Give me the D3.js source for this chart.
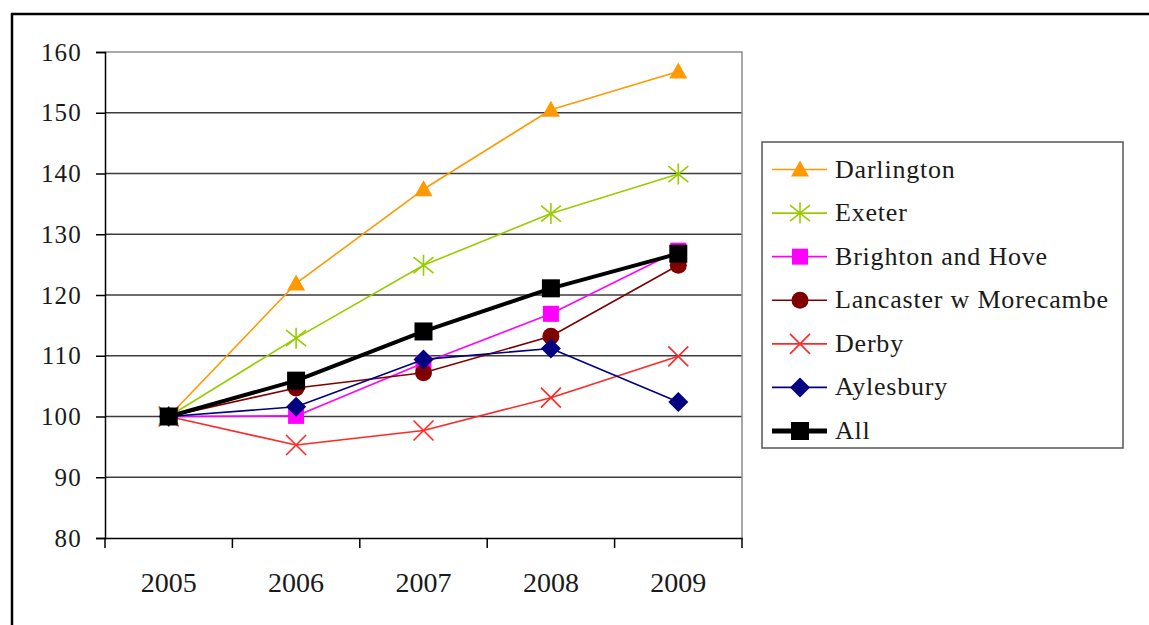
<!DOCTYPE html>
<html>
<head>
<meta charset="utf-8">
<script src="https://cdn.jsdelivr.net/npm/d3@7"></script>
<style>
  html, body { margin: 0; padding: 0; background: #fff; }
  svg { display: block; }
  text { font-family: "Liberation Serif", "Times New Roman", serif; fill: #1a1a1a; }
</style>
</head>
<body>
<svg id="chart" width="1149" height="625"></svg>
<script>
// Index values (2005 = 100)
const years = ["2005", "2006", "2007", "2008", "2009"];
const yTicks = [80, 90, 100, 110, 120, 130, 140, 150, 160];

const darlington = [100, 121.9, 137.4, 150.5, 156.8];
const exeter     = [100, 112.9, 124.9, 133.4, 139.9];
const brighton   = [100, 100.1, 108.8, 116.9, 127.3];
const lancaster  = [100, 104.7, 107.2, 113.2, 124.9];
const derby      = [100, 95.3, 97.7, 103.1, 109.9];
const aylesbury  = [100, 101.6, 109.4, 111.2, 102.4];
const all        = [100, 105.9, 114.0, 121.1, 126.8];

const seriesNames = ["Darlington", "Exeter", "Brighton and Hove", "Lancaster w Morecambe", "Derby", "Aylesbury", "All"];
const seriesValues = [darlington, exeter, brighton, lancaster, derby, aylesbury, all];
const seriesColors = ["#FF9900", "#99CC00", "#FF00FF", "#800000", "#FF2828", "#000080", "#000000"];
const seriesMarkers = ["triangle", "star", "square", "circle", "cross", "diamond", "bigsquare"];
const seriesWidths = [1.6, 1.6, 1.6, 1.6, 1.6, 1.6, 4];

const serif = "'Liberation Serif', 'Times New Roman', serif";
const svg = d3.select("#chart");

// outer frame (top and left edges)
svg.append("line").attr("x1", 11).attr("x2", 1149).attr("y1", 14).attr("y2", 14)
  .attr("stroke", "#000").attr("stroke-width", 2.5);
svg.append("line").attr("x1", 12).attr("x2", 12).attr("y1", 13).attr("y2", 625)
  .attr("stroke", "#000").attr("stroke-width", 2.5);

const plot = { left: 105, right: 742, top: 52, bottom: 538 };

const x = d3.scaleBand().domain(years).range([plot.left, plot.right]);
const y = d3.scaleLinear().domain([80, 160]).range([plot.bottom, plot.top]);
const cx = d => x(d) + x.bandwidth() / 2;

// gridlines
svg.append("g").selectAll("line")
  .data(yTicks.filter(t => t > 80 && t < 160))
  .join("line")
  .attr("x1", plot.left).attr("x2", plot.right)
  .attr("y1", d => y(d)).attr("y2", d => y(d))
  .attr("stroke", "#3c3c3c").attr("stroke-width", 1.5);

// plot area border (top and right)
svg.append("path")
  .attr("d", `M${plot.left},${y(160)}H${plot.right}V${plot.bottom}`)
  .attr("fill", "none").attr("stroke", "#8c8c8c").attr("stroke-width", 1.5);

// y axis
const yAxis = svg.append("g")
  .attr("transform", `translate(${plot.left},0)`)
  .call(d3.axisLeft(y).tickValues(yTicks).tickSize(9).tickPadding(14).tickFormat(d3.format("d")));
yAxis.attr("font-family", null);
yAxis.select(".domain").attr("stroke", "#000").attr("stroke-width", 1.5);
yAxis.selectAll(".tick line").attr("stroke", "#000").attr("stroke-width", 1.5);
yAxis.selectAll(".tick text")
  .style("font-family", serif)
  .style("font-size", "25px").style("letter-spacing", "1.2px")
  .attr("fill", "#1a1a1a");

// x axis: labels at band centres, tick marks on band boundaries
const xAxis = svg.append("g")
  .attr("transform", `translate(0,${plot.bottom})`)
  .call(d3.axisBottom(x).tickSize(0).tickPadding(34));
xAxis.attr("font-family", null);
xAxis.select(".domain").attr("stroke", "#000").attr("stroke-width", 1.5);
xAxis.selectAll(".tick text")
  .style("font-family", serif)
  .style("font-size", "28px")
  .attr("fill", "#1a1a1a");
const boundaries = years.map(d => x(d)).concat([x.range()[1]]);
xAxis.append("g").selectAll("line")
  .data(boundaries)
  .join("line")
  .attr("x1", d => d).attr("x2", d => d)
  .attr("y1", 0).attr("y2", 10)
  .attr("stroke", "#000").attr("stroke-width", 1.5);

// marker drawing
function drawMarker(g, type, color, px, py) {
  if (type === "triangle") {
    g.append("path")
      .attr("d", `M${px},${py - 9}L${px + 9},${py + 7}L${px - 9},${py + 7}Z`)
      .attr("fill", color);
  } else if (type === "star") {
    const r = 10;
    g.append("path")
      .attr("d", `M${px - r},${py - r * 0.8}L${px + r},${py + r * 0.8}M${px - r},${py + r * 0.8}L${px + r},${py - r * 0.8}M${px},${py - r * 1.05}V${py + r * 1.05}`)
      .attr("stroke", color).attr("stroke-width", 1.6).attr("fill", "none");
  } else if (type === "cross") {
    const r = 10;
    g.append("path")
      .attr("d", `M${px - r},${py - r}L${px + r},${py + r}M${px - r},${py + r}L${px + r},${py - r}`)
      .attr("stroke", color).attr("stroke-width", 1.6).attr("fill", "none");
  } else if (type === "square") {
    g.append("rect").attr("x", px - 8).attr("y", py - 8).attr("width", 16).attr("height", 16)
      .attr("fill", color);
  } else if (type === "bigsquare") {
    g.append("rect").attr("x", px - 9).attr("y", py - 9).attr("width", 18).attr("height", 18)
      .attr("fill", color);
  } else if (type === "circle") {
    g.append("circle").attr("cx", px).attr("cy", py).attr("r", 8.5).attr("fill", color);
  } else if (type === "diamond") {
    g.append("path")
      .attr("d", `M${px},${py - 10}L${px + 10},${py}L${px},${py + 10}L${px - 10},${py}Z`)
      .attr("fill", color);
  }
}

const line = d3.line().x((d, i) => cx(years[i])).y(d => y(d));

seriesValues.forEach((vals, s) => {
  const g = svg.append("g");
  g.append("path")
    .attr("d", line(vals))
    .attr("fill", "none")
    .attr("stroke", seriesColors[s])
    .attr("stroke-width", seriesWidths[s])
    .attr("stroke-linejoin", "round");
  vals.forEach((v, i) => drawMarker(g, seriesMarkers[s], seriesColors[s], cx(years[i]), y(v)));
});

// legend
const legend = { left: 762, top: 142, width: 361, height: 306 };
svg.append("rect")
  .attr("x", legend.left).attr("y", legend.top)
  .attr("width", legend.width).attr("height", legend.height)
  .attr("fill", "#fff").attr("stroke", "#555").attr("stroke-width", 1.5);

const rowY = d3.scalePoint().domain(seriesNames).range([169.5, 431]);
seriesNames.forEach((name, s) => {
  const g = svg.append("g");
  const ry = rowY(name);
  g.append("line")
    .attr("x1", 772).attr("x2", 827).attr("y1", ry).attr("y2", ry)
    .attr("stroke", seriesColors[s])
    .attr("stroke-width", s === 6 ? 5 : 1.6);
  drawMarker(g, seriesMarkers[s], seriesColors[s], 800, ry);
  g.append("text")
    .attr("x", 835).attr("y", ry + 8)
    .style("font-family", serif)
    .style("font-size", "26px").style("letter-spacing", "0.8px")
    .text(name);
});
</script>
</body>
</html>
